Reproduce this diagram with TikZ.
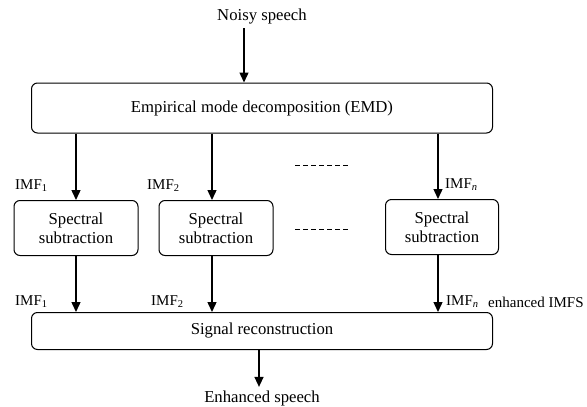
\documentclass[tikz,border=0pt]{standalone}
\usepackage{fontspec}
\setmainfont{Liberation Serif}
\usetikzlibrary{arrows.meta}

\tikzset{
    block/.style={draw, rounded corners=6pt, line width=1pt, align=center,
        inner sep=0, font=\fontsize{16.7}{19}\selectfont},
    flow/.style={-{Triangle[length=10pt, width=9pt]}, line width=1.4pt},
    imf/.style={anchor=west, inner sep=0, font=\fontsize{15}{17}\selectfont},
    gap/.style={dash pattern=on 4.5pt off 3.5pt, line width=0.8pt},
}

\begin{document}
\begin{tikzpicture}[x=1pt, y=-1pt, font=\fontsize{16.7}{19}\selectfont]

    \useasboundingbox (0, 0) rectangle (587, 407);

    % Input and decomposition
    \node (noisy) at (262, 17) {Noisy speech};
    \node[block, minimum width=461pt, minimum height=50pt] (emd) at (262, 108)
        {Empirical mode decomposition (EMD)};

    % Spectral subtraction of each IMF
    \node[block, minimum width=124pt, minimum height=55pt] (ss1) at (76, 228)
        {Spectral\\subtraction};
    \node[block, minimum width=114pt, minimum height=55pt] (ss2) at (216, 228)
        {Spectral\\subtraction};
    \node[block, minimum width=113pt, minimum height=55pt] (ssn) at (442, 227)
        {Spectral\\subtraction};

    % Reconstruction and output
    \node[block, minimum width=461pt, minimum height=37pt] (rec) at (262, 331)
        {Signal reconstruction};
    \node (enh) at (262, 398) {Enhanced speech};

    % IMF labels
    \node[imf] (in1) at (15, 186) {IMF\textsubscript{1}};
    \node[imf] (in2) at (147, 186) {IMF\textsubscript{2}};
    \node[imf] (inn) at (445, 185) {IMF\textsubscript{\itshape n}};
    \node[imf] (out1) at (15, 302) {IMF\textsubscript{1}};
    \node[imf] (out2) at (151, 302) {IMF\textsubscript{2}};
    \node[imf] (outn) at (446, 302) {IMF\textsubscript{\itshape n}};
    \node[imf] (enhimf) at (488, 302) {enhanced IMFS};

    % Skipped branches
    \draw[gap] (295, 165) -- (351, 165);
    \draw[gap] (295, 229) -- (351, 229);

    % Arrows
    \draw[flow] ([xshift=-18pt]noisy.south) -- ([xshift=-18pt]noisy.south |- emd.north);
    \foreach \s/\dx in {ss1/0, ss2/-4, ssn/-4} {
        \draw[flow] ([xshift=\dx pt]\s.north |- emd.south) -- ([xshift=\dx pt]\s.north);
        \draw[flow] ([xshift=\dx pt]\s.south) -- ([xshift=\dx pt]\s.south |- rec.north);
    }
    \draw[flow] ([xshift=-3pt]rec.south) -- ([xshift=-3pt]rec.south |- enh.north);

\end{tikzpicture}
\end{document}
